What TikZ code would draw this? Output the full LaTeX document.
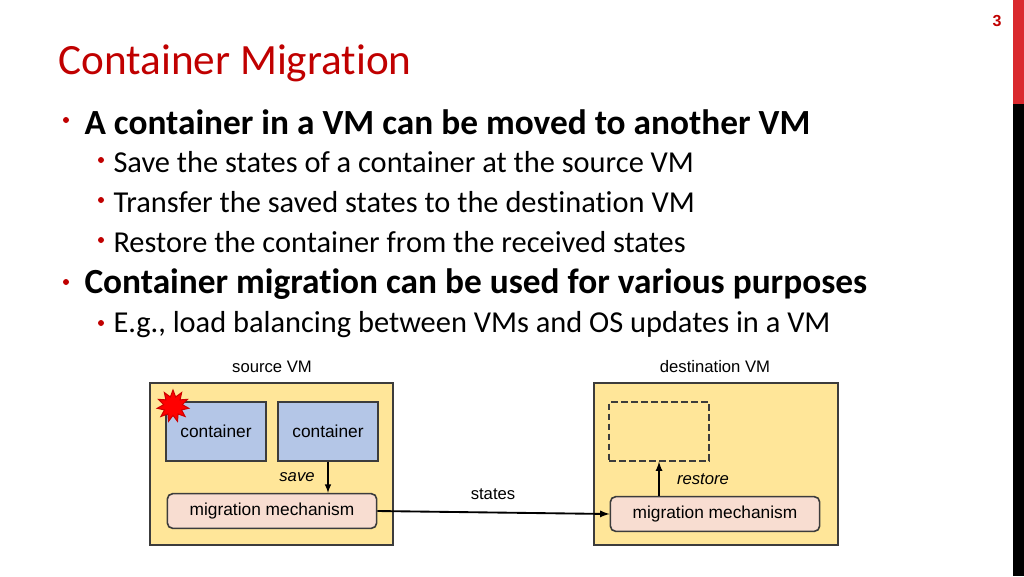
\documentclass[tikz,border=0pt]{standalone}
\usepackage{fontspec}
\setmainfont[Ligatures=NoCommon]{Carlito}
\newfontfamily\diagfont{Liberation Sans}
\usetikzlibrary{shapes.geometric}
\definecolor{titlered}{RGB}{192,0,0}
\definecolor{barred}{RGB}{218,41,46}
\definecolor{vmyellow}{RGB}{255,230,153}
\definecolor{boxblue}{RGB}{180,198,231}
\definecolor{mechpink}{RGB}{248,221,209}
\definecolor{edgegray}{RGB}{60,60,60}
\tikzset{every picture/.style={line width=0.75pt}}
\tikzset{
  vmbox/.style={draw=edgegray,fill=vmyellow,line width=1.2pt},
  ctbox/.style={draw=edgegray,fill=boxblue,line width=1.2pt,minimum width=75pt,minimum height=44pt,inner sep=0pt,font=\diagfont\fontsize{13}{15}\selectfont},
  mechbox/.style={draw=edgegray,fill=mechpink,line width=1.2pt,rounded corners=4pt,minimum width=157pt,minimum height=26pt,inner sep=0pt,font=\diagfont\fontsize{13}{15}\selectfont},
  lbl/.style={inner sep=0.75pt,font=\diagfont\fontsize{12.5}{15}\selectfont},
  topline/.style={anchor=west,inner sep=0pt,font=\fontsize{26.5}{30}\selectfont\bfseries},
  subline/.style={anchor=west,inner sep=0pt,font=\fontsize{22.8}{27}\selectfont},
  dot/.style={circle,fill=titlered,inner sep=0pt,minimum size=4.5pt}
}
\begin{document}
\begin{tikzpicture}[x=0.75pt,y=0.75pt,yscale=-1,xscale=1]
\useasboundingbox (0,0) rectangle (1024,576);
% side bar
\fill [barred] (1013,0) rectangle (1024,104);
\fill [black] (1013,104) rectangle (1024,576);
\node [inner sep=0pt,text=titlered,font=\diagfont\bfseries\fontsize{12}{14}\selectfont] (pagenum) at (997,21) {3};

% Title
\node [anchor=base west,inner sep=0pt,text=titlered,font=\fontsize{32.4}{38}\selectfont] (title) at (58,74) {Container Migration};

% Bullets
\node [dot] (d1) at (66,120) {};
\node [topline] (t1) at (84,122) {A container in a VM can be moved to another VM};
\node [dot] (d2) at (101,160) {};
\node [subline] (t2) at (113,162) {Save the states of a container at the source VM};
\node [dot] (d3) at (101,200) {};
\node [subline] (t3) at (113,202) {Transfer the saved states to the destination VM};
\node [dot] (d4) at (101,240) {};
\node [subline] (t4) at (113,242) {Restore the container from the received states};
\node [dot] (d5) at (66,282) {};
\node [topline] (t5) at (84,284) {Container migration can be used for various purposes};
\node [dot] (d6) at (101,323) {};
\node [subline] (t6) at (113,325) {E.g., load balancing between VMs and OS updates in a VM};

% Diagram
\draw [vmbox] (150,383) rectangle (393,545);
\draw [vmbox] (594,383) rectangle (838,545);
\node [lbl] (srclbl) at (272,367) {source VM};
\node [lbl] (dstlbl) at (715,367) {destination VM};

\node [ctbox] (ct1) at (216,431.5) {container};
\node [ctbox] (ct2) at (328,431.5) {container};
\node [star,star points=11,star point ratio=1.7,fill=red,draw=red!80!black,inner sep=0pt,minimum size=24pt] (burst) at (173,406) {};
\node [mechbox] (srcmech) at (272,511) {migration mechanism};

\node [ctbox,fill=none,dashed,dash pattern=on 5pt off 2.5pt] (newct) at (659,431.5) {};
\node [mechbox] (dstmech) at (715,514) {migration mechanism};

\draw [-latex,line width=1.2pt] (ct2.south) -- (srcmech.north -| ct2.south);
\node [lbl,font=\diagfont\itshape\fontsize{12.5}{15}\selectfont] (savelbl) at (297,477) {save};
\draw [-latex,line width=1.4pt] (dstmech.north -| newct.south) -- (newct.south);
\node [lbl,font=\diagfont\itshape\fontsize{12.5}{15}\selectfont] (restorelbl) at (703,479) {restore};
\draw [-latex,line width=1.4pt] (srcmech.east) -- (dstmech.west);
\node [lbl] (stateslbl) at (493,494) {states};
\end{tikzpicture}
\end{document}
